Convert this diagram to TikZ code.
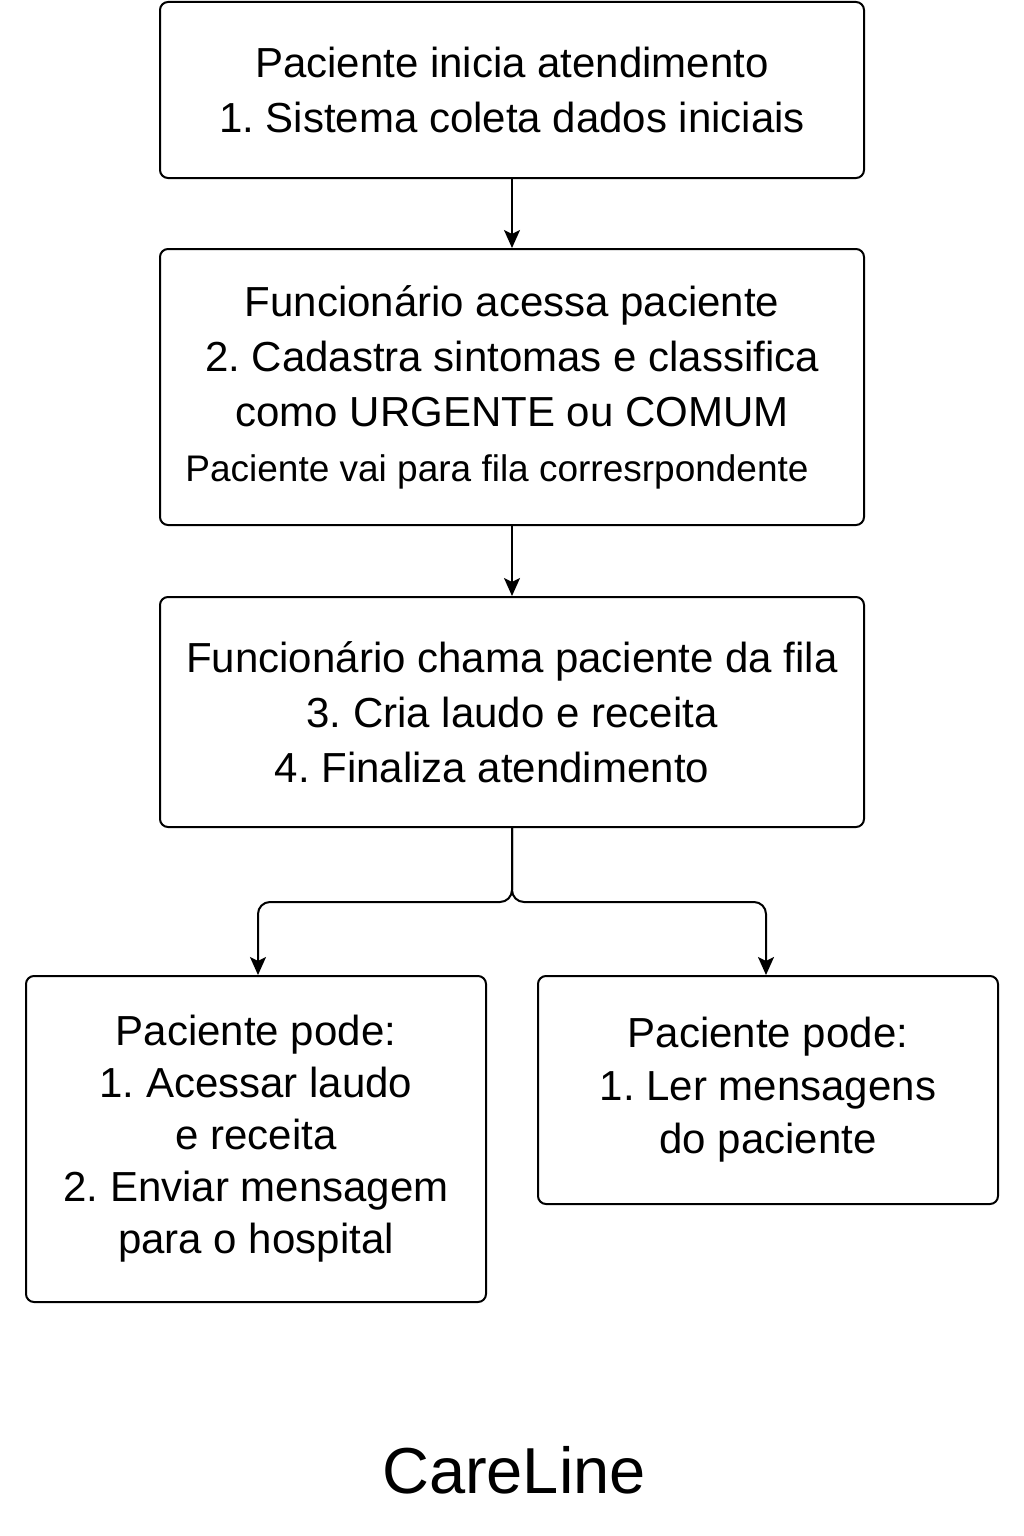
\documentclass[tikz,border=0pt]{standalone}
\usepackage{fontspec}
\setmainfont{Liberation Sans}
\frenchspacing
\usetikzlibrary{arrows.meta,positioning}
\tikzset{font={\fontsize{42pt}{55pt}\selectfont}}

\begin{document}
\begin{tikzpicture}[x=1pt,y=-1pt,
box/.style={draw,line width=2pt,rounded corners=8pt,align=center,inner sep=0pt},
flow/.style={-{Stealth[length=18pt,width=16pt,inset=4pt]},line width=2pt}
]
\useasboundingbox (0,0) rectangle (1024,1536);

\node[box,minimum width=704pt,minimum height=176pt] (start) at (512,90)
  {Paciente inicia atendimento\\1. Sistema coleta dados iniciais};
\node[box,minimum width=704pt,minimum height=276pt] (triage) at (512,387)
  {Funcionário acessa paciente\\2. Cadastra sintomas e classifica\\como URGENTE ou COMUM\\
   {\fontsize{37pt}{55pt}\selectfont Paciente vai para fila corresrpondente}\hspace*{30pt}};
\node[box,minimum width=704pt,minimum height=230pt] (consult) at (512,712)
  {Funcionário chama paciente da fila\\3. Cria laudo e receita\hspace*{18pt}\\4. Finaliza atendimento\hspace*{40pt}};

\node[box,minimum width=460pt,minimum height=326pt,font={\fontsize{42pt}{52pt}\selectfont}] (patient) at (256,1139)
  {Paciente pode:\\1. Acessar laudo\\e receita\\2. Enviar mensagem\\para o hospital};
\node[box,minimum width=460pt,minimum height=228pt,font={\fontsize{42pt}{53pt}\selectfont}] (hospital) at (768,1090)
  {Paciente pode:\\1. Ler mensagens\\do paciente};

\node (brand) at (514,1470) {\fontsize{65pt}{70pt}\selectfont CareLine};

\draw[flow] (start) -- (triage);
\draw[flow] (triage) -- (consult);
\draw[flow,rounded corners=12pt] (consult.south) -- ++(0,74) -| ([xshift=2pt]patient.north);
\draw[flow,rounded corners=12pt] (consult.south) -- ++(0,74) -| ([xshift=-2pt]hospital.north);

\end{tikzpicture}
\end{document}
